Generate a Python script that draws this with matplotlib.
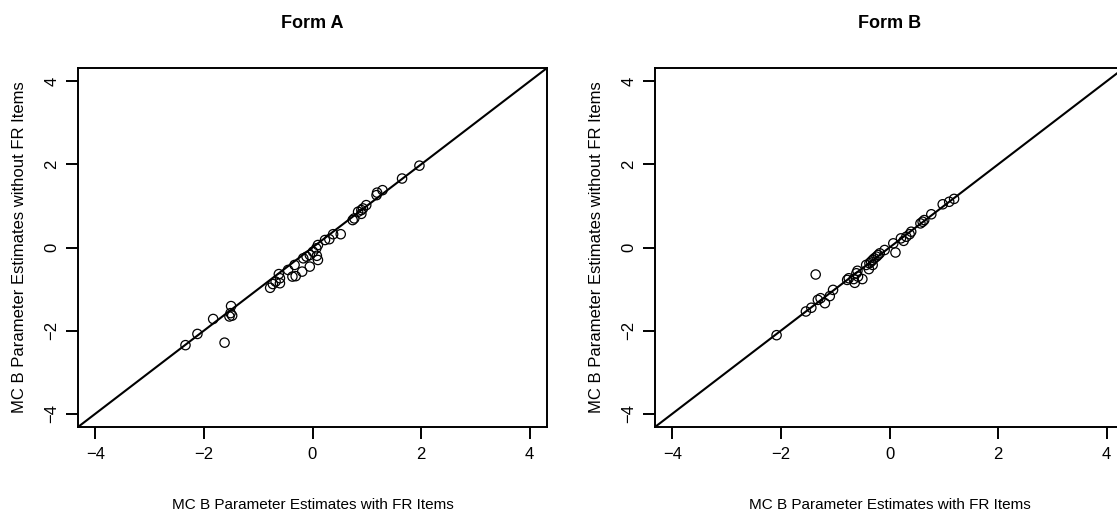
import matplotlib
matplotlib.use("Agg")
import matplotlib.pyplot as plt
import numpy as np

# Form A: MC B estimates with FR items (x) vs without FR items (y)
form_a_x = [-2.34, -2.12, -1.83, -1.50, -1.51, -1.48, -1.53, -1.62,
            -0.78, -0.73, -0.68, -0.62, -0.60, -0.60, -0.45, -0.37, -0.31,
            -0.33, -0.19, -0.17, -0.05, -0.11, -0.05, 0.01, 0.07, 0.10,
            0.10, 0.08, 0.23, 0.31, 0.38, 0.52, 0.74, 0.77, 0.84, 0.90,
            0.93, 0.99, 0.90, 1.18, 1.19, 1.29, 1.65, 1.97]
form_a_y = [-2.35, -2.08, -1.72, -1.41, -1.58, -1.64, -1.66, -2.29,
            -0.97, -0.88, -0.82, -0.64, -0.74, -0.86, -0.54, -0.70, -0.69,
            -0.42, -0.58, -0.26, -0.46, -0.22, -0.18, -0.10, -0.02, 0.06,
            -0.30, -0.20, 0.18, 0.20, 0.32, 0.32, 0.66, 0.70, 0.86, 0.90,
            0.94, 1.02, 0.81, 1.26, 1.32, 1.38, 1.66, 1.97]

# Form B
form_b_x = [-2.08, -1.54, -1.44, -1.36, -1.32, -1.27, -1.19, -1.10, -1.04,
            -0.78, -0.75, -0.64, -0.61, -0.58, -0.59, -0.50, -0.66,
            -0.43, -0.38, -0.37, -0.34, -0.31, -0.28, -0.24, -0.21, -0.18,
            -0.31, -0.09, 0.07, 0.11, 0.21, 0.26, 0.31, 0.37, 0.40,
            0.57, 0.61, 0.64, 0.77, 0.98, 1.10, 1.19]
form_b_y = [-2.11, -1.54, -1.45, -0.65, -1.26, -1.22, -1.34, -1.17, -1.02,
            -0.78, -0.74, -0.85, -0.62, -0.70, -0.56, -0.76, -0.76,
            -0.42, -0.52, -0.38, -0.34, -0.30, -0.26, -0.22, -0.18, -0.14,
            -0.42, -0.06, 0.10, -0.12, 0.22, 0.16, 0.26, 0.32, 0.38,
            0.58, 0.62, 0.66, 0.80, 1.04, 1.10, 1.17]

ticks = [-4, -2, 0, 2, 4]
lim = 4.32

plt.rcParams['font.family'] = ['Liberation Sans', 'DejaVu Sans']

fig = plt.figure(figsize=(11.17, 5.16), dpi=100)
W, H = 1117.0, 516.0
ax_w, ax_h = 469 / W, 359 / H
bottom = (H - 427) / H
axes = [fig.add_axes([78 / W, bottom, ax_w, ax_h]),
        fig.add_axes([655 / W, bottom, ax_w, ax_h])]

panels = [("Form A", form_a_x, form_a_y), ("Form B", form_b_x, form_b_y)]

for ax, (title, xs, ys) in zip(axes, panels):
    ax.set_xlim(-lim, lim)
    ax.set_ylim(-lim, lim)
    # identity line
    ax.plot([-lim, lim], [-lim, lim], color='black', lw=1.5, zorder=2)
    ax.scatter(xs, ys, s=45, facecolors='none', edgecolors='black',
               linewidths=0.9, zorder=3)
    for sp in ax.spines.values():
        sp.set_linewidth(1.4)
    ax.set_xticks(ticks)
    ax.set_yticks(ticks)
    ax.tick_params(direction='out', length=8.5, width=1.4, labelsize=12)
    ax.tick_params(axis='x', pad=6)
    ax.tick_params(axis='y', pad=5)
    for lbl in ax.get_yticklabels():
        lbl.set_rotation(90)
        lbl.set_va('center')
    ax.text(0.5, 1.1226, title, transform=ax.transAxes, ha='center',
            va='center', fontsize=13, fontweight='bold')
    ax.text(0.5, -0.217, "MC B Parameter Estimates with FR Items",
            transform=ax.transAxes, ha='center', va='center', fontsize=11)
    ax.text(-0.1237, 0.5, "MC B Parameter Estimates without FR Items",
            transform=ax.transAxes, ha='center', va='center', fontsize=12,
            rotation=90)

fig.savefig("out.png", dpi=100)
